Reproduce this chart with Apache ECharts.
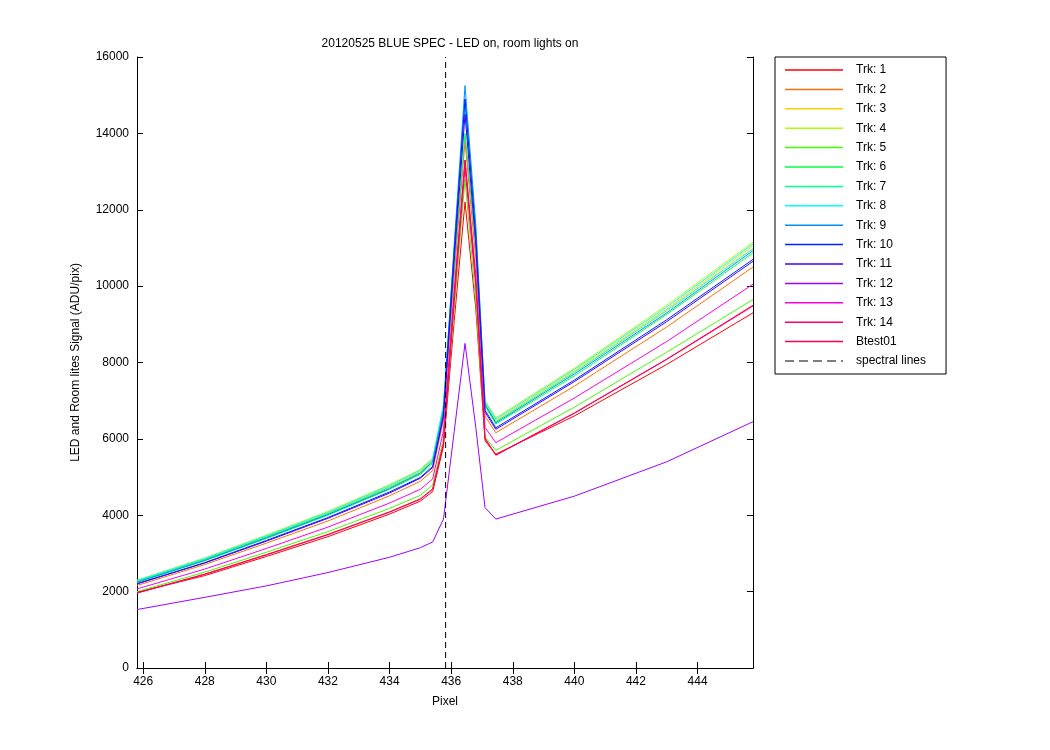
<!DOCTYPE html><html><head><meta charset="utf-8">
<script src="https://cdn.jsdelivr.net/npm/echarts@6/dist/echarts.min.js"></script>
<style>html,body{margin:0;background:#fff}#c{width:1050px;height:750px}</style></head><body><div id="c"></div>
<script>
const xs=[425.8,428,430,432,434,435,435.4,435.75,436.1,436.45,436.8,437.1,437.45,440,443,445.8];
const trk1=[1980,2420,2920,3440,4030,4370,4620,5800,9100,12200,9400,5950,5600,6600,7950,9300];
const trk2=[2160,2710,3270,3850,4510,4890,5170,6490,10300,13800,10700,6600,6160,7380,8930,10500];
const trk3=[2280,2850,3450,4060,4750,5150,5450,6830,10900,14700,11350,6950,6480,7780,9400,11050];
const trk4=[2300,2880,3480,4100,4800,5200,5500,6900,10800,14600,11300,7000,6550,7850,9500,11150];
const trk5=[2000,2510,3030,3570,4180,4520,4790,6000,9400,12800,9600,6050,5700,6830,8270,9650];
const trk6=[2240,2810,3390,4000,4680,5070,5360,6730,10500,14000,11000,6850,6390,7650,9260,10870];
const trk7=[2270,2840,3430,4040,4730,5120,5420,6800,10950,14900,11400,6900,6450,7740,9360,10980];
const trk8=[2290,2870,3460,4080,4780,5180,5470,6870,11000,14800,11400,6980,6520,7820,9450,11100];
const trk9=[2250,2820,3410,4020,4700,5100,5400,6760,11100,15250,11600,6900,6420,7700,9300,10930];
const trk10=[2210,2760,3340,3940,4610,4990,5280,6620,10900,14900,11300,6750,6290,7540,9120,10700];
const trk11=[2200,2750,3320,3920,4580,4970,5250,6590,10700,14500,11100,6700,6250,7500,9070,10650];
const trk12=[1530,1850,2150,2500,2900,3150,3300,3900,6200,8500,6300,4200,3900,4500,5400,6450];
const trk13=[2070,2590,3130,3690,4320,4680,4950,6210,9900,13300,10300,6300,5900,7070,8550,10050];
const trk14=[1960,2450,2960,3490,4080,4420,4680,5870,9600,13100,10000,6000,5570,6670,8080,9480];
const btest01=[1970,2460,2970,3500,4090,4430,4690,5880,9800,13300,10100,6020,5580,6680,8090,9500];
const names=['Trk: 1','Trk: 2','Trk: 3','Trk: 4','Trk: 5','Trk: 6','Trk: 7','Trk: 8','Trk: 9','Trk: 10','Trk: 11','Trk: 12','Trk: 13','Trk: 14','Btest01'];
const colors=['#ff0000','#ff7000','#ffd000','#b0ff00','#40ff00','#00ff40','#00ff90','#00ffff','#0090ff','#0020ff','#4000ff','#a000ff','#ff00e0','#ff0070','#ff0050'];
const data=[trk1,trk2,trk3,trk4,trk5,trk6,trk7,trk8,trk9,trk10,trk11,trk12,trk13,trk14,btest01];
const specX=435.82;
const xTicks=[426,428,430,432,434,436,438,440,442,444];
const series=data.map((d,i)=>({name:names[i],type:'line',data:d.map((v,j)=>[xs[j],v]),symbol:'none',lineStyle:{width:1,color:colors[i]},itemStyle:{color:colors[i]},animation:false,z:2+i}));
series.push({name:'spectral lines',type:'line',data:[[specX,0],[specX,16000]],symbol:'none',lineStyle:{width:1,color:'#000',type:[6,4]},itemStyle:{color:'#000'},animation:false,z:30});
const f='Liberation Sans';
const ax={lineStyle:{color:'#000'}};
const legendData=names.map(n=>({name:n,icon:'rect'}));
legendData.push({name:'spectral lines',icon:'path://M0,0h9v1h-9z M14,0h9v1h-9z M28,0h9v1h-9z M42,0h9v1h-9z M56,0h2v1h-2z'});
const chart=echarts.init(document.getElementById('c'));
chart.setOption({
 backgroundColor:'#fff',
 title:{text:'20120525 BLUE SPEC - LED on, room lights on',left:445,top:33,textAlign:'center',textStyle:{fontFamily:f,fontSize:12,fontWeight:'normal',color:'#000'}},
 grid:{left:137,right:297,top:57,bottom:82},
 legend:{orient:'vertical',left:775,top:57,padding:[6,20,6,10],itemGap:5.4,itemWidth:58,itemHeight:1.5,
   borderColor:'#000',borderWidth:1,backgroundColor:'#fff',textStyle:{fontFamily:f,fontSize:12,color:'#000',lineHeight:14,padding:[0,0,0,8]},
   data:legendData,selectedMode:false},
 xAxis:[{type:'value',min:425.8,max:445.8,name:'Pixel',nameLocation:'middle',nameGap:28,nameTextStyle:{fontFamily:f,fontSize:12,color:'#000'},
   axisLine:ax,axisTick:{inside:true,length:6,lineStyle:{color:'#000'},customValues:xTicks},axisLabel:{fontFamily:f,fontSize:12,color:'#000',customValues:xTicks,margin:8},splitLine:{show:false}},
  {type:'value',position:'top',min:425.8,max:445.8,axisLine:ax,axisTick:{inside:true,length:6,lineStyle:{color:'#000'},customValues:xTicks},axisLabel:{show:false},splitLine:{show:false}}],
 yAxis:[{type:'value',min:0,max:16000,interval:2000,name:'LED and Room lites Signal (ADU/pix)',nameLocation:'middle',nameGap:55,nameTextStyle:{fontFamily:f,fontSize:12,color:'#000'},
   axisLine:{show:true,lineStyle:{color:'#000'}},axisTick:{inside:true,length:6,lineStyle:{color:'#000'}},axisLabel:{fontFamily:f,fontSize:12,color:'#000',formatter:v=>String(v)},splitLine:{show:false}},
  {type:'value',position:'right',min:0,max:16000,interval:2000,axisLine:{show:true,lineStyle:{color:'#000'}},axisTick:{inside:true,length:6,lineStyle:{color:'#000'}},axisLabel:{show:false},splitLine:{show:false}}],
 series:series
});
</script></body></html>
